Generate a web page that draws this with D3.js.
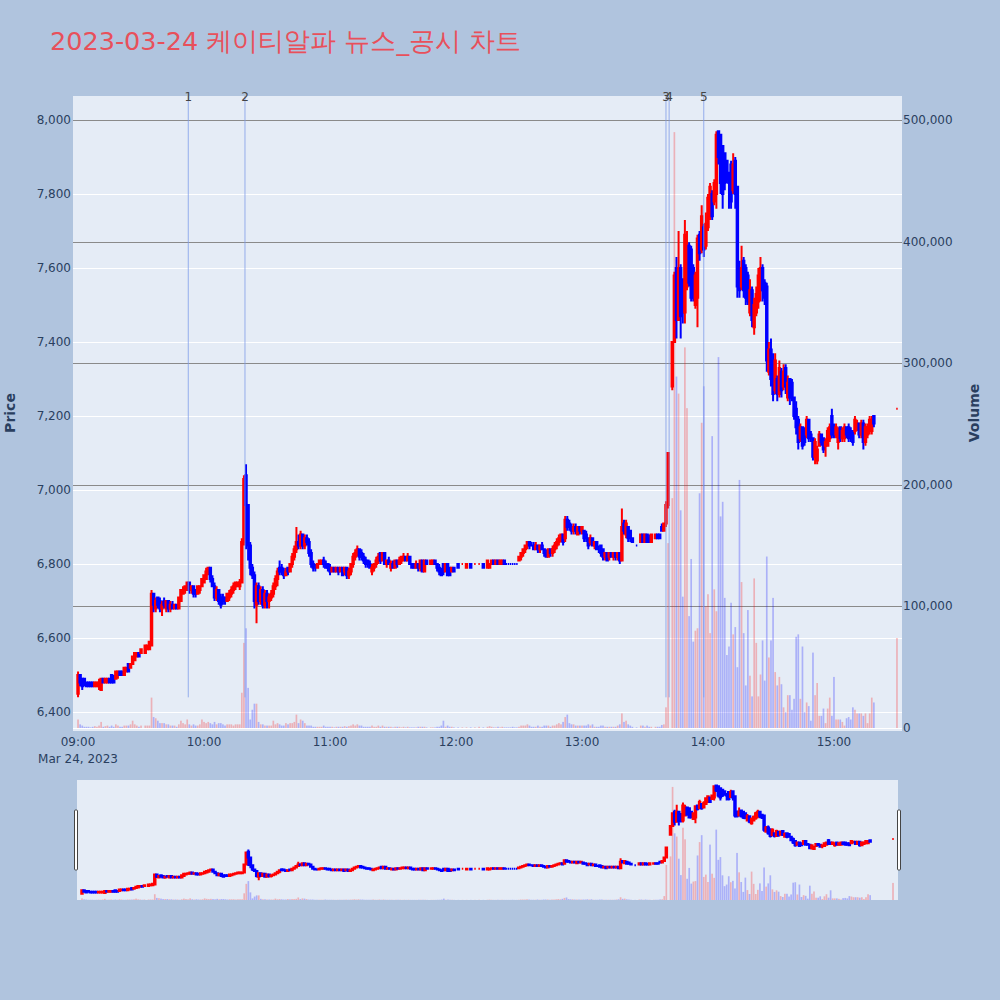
<!DOCTYPE html>
<html><head><meta charset="utf-8">
<script src="https://cdn.jsdelivr.net/npm/d3@7"></script>
<style>body{margin:0;background:#b0c4de;} svg{display:block}</style>
</head><body>
<svg id="chart" width="1000" height="1000"></svg>
<script>
// ---- data: one entry per minute from 09:00 (index = minutes after 09:00), null = no trade ----
const openPrice = [
6450,6500,6490,6490,6480,6480,6480,6480,6470,6470, //09:00
6470,6460,6490,6480,6480,6490,6500,6490,6490,6500, //09:10
6510,6510,6500,6510,6530,6520,6530,6540,6550,6560, //09:20
6560,null,6560,6570,6570,6580,6720,6680,6710,6700, //09:30
6680,6700,6680,6700,6680,6690,6680,6690,6680,6700, //09:40
6720,6730,6730,6750,6730,6740,6730,6720,6730,6740, //09:50
6750,6760,6780,6790,6760,6740,6710,6730,6710,6710, //10:00
6710,6700,6710,6720,6730,6740,6740,6740,6750,6860, //10:10
7040,6960,6850,6790,6770,6690,6740,6700,6730,6690, //10:20
6720,6700,6710,6720,6740,6760,6790,6790,6780,6770, //10:30
6790,6780,6800,6820,6840,6860,6850,6880,6850,6870, //10:40
6860,6830,6800,6790,6790,6800,6800,6810,6800,6800, //10:50
6790,6780,6790,6780,6790,6780,6790,6780,6790,6770, //11:00
6780,6800,6820,6830,6840,6830,6820,6810,6810,6800, //11:10
6780,6790,6800,6810,6830,6810,6830,6800,6810,6790, //11:20
6800,6790,6810,6800,6810,6810,6820,6810,6820,6800, //11:30
6800,6790,6800,6790,6810,6780,6810,null,6800,6800, //11:40
6810,6800,6790,6780,6800,6780,6800,6790,6780,6790, //11:50
null,6800,null,6800,null,6790,null,6800,null,6800, //12:00
null,6800,null,6800,null,6790,6790,6800,6810,6800, //12:10
6810,6800,6800,6810,6800,6800,6800,6800,6800,6800, //12:20
6810,6820,6830,6840,6850,6860,6850,6850,6840,6850, //12:30
6840,6850,6840,6830,6820,6840,6830,6840,6850,6860, //12:40
6870,6880,6870,6920,6910,6900,6890,6900,6880,6900, //12:50
6890,6890,6880,6870,6860,6870,6850,6860,6840,6850, //13:00
6840,6820,6830,6820,6830,6820,6830,6820,6830,6810, //13:10
6910,6880,6900,6890,6870,null,6850,null,6860,6880, //13:20
6860,6880,6870,6860,null,6870,6880,6880,6900,6890, //13:30
6910,6960,null,7280,7400,7600,7460,7600,7570,7480, //13:40
7550,7660,7650,7600,7500,7520,7690,7650,7710,7660, //13:50
7710,7740,7800,7780,7800,7970,7960,7930,7910,7890, //14:00
7850,7880,7810,7890,7820,7600,7550,7620,7600,7580, //14:10
7480,7540,7440,7480,7510,7540,7600,7560,7550,7320, //14:20
7380,7350,7270,7300,7260,7320,7280,7330,7250,7300, //14:30
7290,7250,7220,7190,7140,7170,7160,7150,7190,7150, //14:40
7140,7090,7080,7120,7150,7140,7120,7120,7140,7200, //14:50
7170,7150,7130,7170,7140,7140,7170,7170,7160,7160, //15:00
7160,7170,7180,7150,7180,7130,7150,7160,7160,7200, //15:10
null,null,null,null,null,null,null,null,null,null, //15:20
7220];                                              //15:30
const highPrice = [
6510,6500,6490,6490,6480,6480,6480,6480,6480,6480,
6490,6490,6490,6490,6490,6490,6500,6500,6510,6510,
6510,6510,6520,6520,6530,6530,6550,6560,6560,6560,
6570,null,6580,6580,6590,6730,6720,6710,6710,6710,
6700,6710,6700,6700,6700,6700,6690,6690,6710,6730,
6740,6740,6750,6750,6740,6740,6730,6740,6740,6760,
6770,6790,6790,6790,6770,6750,6740,6730,6720,6720,
6710,6720,6730,6740,6750,6750,6750,6760,6870,7040,
7070,6960,6860,6800,6780,6750,6750,6740,6740,6730,
6730,6720,6730,6750,6770,6790,6810,6800,6790,6790,
6790,6800,6830,6850,6900,6880,6890,6880,6880,6880,
6870,6840,6810,6800,6800,6810,6810,6820,6810,6800,
6800,6790,6790,6790,6790,6790,6790,6790,6790,6790,
6800,6830,6840,6850,6840,6840,6830,6820,6810,6810,
6800,6800,6820,6830,6830,6830,6830,6810,6820,6810,
6810,6810,6810,6820,6820,6830,6820,6830,6820,6800,
6800,6810,6800,6810,6810,6810,6810,null,6810,6810,
6810,6800,6800,6790,6800,6800,6800,6790,6790,6790,
null,6800,null,6800,null,6800,null,6800,null,6800,
null,6800,null,6800,null,6810,6800,6810,6810,6810,
6810,6810,6810,6810,6800,6800,6800,6800,6800,6800,
6820,6830,6840,6850,6860,6860,6860,6860,6860,6850,
6850,6860,6840,6840,6840,6840,6850,6860,6870,6880,
6880,6880,6930,6930,6920,6910,6910,6910,6900,6900,
6900,6890,6890,6870,6880,6870,6860,6860,6850,6850,
6840,6830,6830,6830,6830,6830,6830,6830,6830,6950,
6920,6920,6900,6890,6870,null,6850,null,6880,6880,
6880,6880,6880,6880,null,6880,6880,6880,6910,6910,
6970,7100,null,7400,7590,7630,7700,7610,7570,7730,
7700,7670,7660,7610,7590,7690,7700,7770,7720,7750,
7800,7830,7810,7840,7970,7970,7960,7930,7910,7890,
7860,7890,7910,7900,7820,7620,7660,7630,7610,7590,
7570,7550,7520,7550,7600,7630,7610,7570,7560,7400,
7410,7370,7370,7310,7350,7330,7340,7340,7310,7300,
7300,7250,7240,7200,7180,7170,7170,7200,7190,7160,
7140,7140,7120,7160,7150,7140,7140,7170,7180,7220,
7180,7180,7170,7170,7170,7180,7170,7180,7170,7160,
7200,7190,7180,7190,7190,7180,7180,7200,7200,7200,
null,null,null,null,null,null,null,null,null,null,
7220];
const lowPrice = [
6440,6470,6460,6470,6470,6470,6470,6470,6470,6470,
6460,6460,6480,6480,6480,6480,6480,6480,6490,6490,
6500,6500,6500,6510,6510,6520,6530,6540,6550,6550,
6560,null,6560,6570,6570,6580,6670,6670,6680,6670,
6660,6680,6670,6670,6670,6680,6680,6680,6680,6700,
6720,6720,6730,6720,6720,6710,6710,6720,6720,6740,
6750,6760,6770,6750,6740,6700,6700,6690,6680,6690,
6690,6700,6700,6710,6720,6730,6740,6730,6750,6850,
6840,6810,6770,6760,6680,6640,6690,6690,6680,6680,
6680,6680,6700,6710,6730,6740,6770,6770,6760,6770,
6770,6780,6790,6810,6830,6840,6840,6840,6840,6850,
6820,6790,6780,6780,6790,6800,6800,6790,6790,6780,
6770,6780,6780,6780,6770,6780,6770,6770,6760,6760,
6770,6790,6810,6820,6810,6810,6800,6790,6790,6790,
6770,6780,6790,6800,6800,6810,6800,6790,6800,6780,
6790,6790,6790,6800,6800,6810,6810,6810,6800,6790,
6790,6790,6780,6780,6780,6780,6800,null,6800,6800,
6800,6780,6770,6770,6770,6780,6770,6770,6780,6780,
null,6790,null,6800,null,6790,null,6790,null,6800,
null,6800,null,6790,null,6790,6790,6800,6800,6800,
6800,6800,6800,6800,6800,6800,6800,6800,6800,6800,
6810,6810,6820,6830,6840,6840,6850,6840,6840,6830,
6830,6840,6820,6820,6820,6820,6820,6830,6840,6850,
6860,6850,6860,6890,6890,6880,6880,6880,6880,6880,
6880,6860,6860,6840,6850,6850,6840,6840,6830,6820,
6810,6810,6810,6810,6820,6810,6810,6810,6800,6810,
6880,6870,6860,6860,6860,null,6850,null,6860,6860,
6860,6860,6860,6860,null,6870,6870,6870,6890,6890,
6900,6950,null,7270,7400,7410,7460,7410,7450,7450,
7540,7550,7510,7510,7490,7440,7620,7640,7630,7650,
7700,7730,7730,7770,7760,7880,7800,7760,7810,7830,
7760,7760,7800,7760,7520,7520,7540,7520,7500,7500,
7470,7440,7420,7470,7490,7510,7510,7500,7320,7310,
7280,7240,7260,7240,7250,7250,7270,7260,7240,7230,
7240,7190,7150,7110,7130,7110,7120,7140,7130,7130,
7080,7070,7070,7120,7120,7100,7090,7120,7130,7140,
7140,7140,7110,7130,7130,7130,7140,7130,7130,7120,
7150,7160,7140,7140,7110,7120,7140,7150,7150,7170,
null,null,null,null,null,null,null,null,null,null,
7220];
const closePrice = [
6500,6480,6470,6480,6470,6470,6470,6470,6480,6480,
6480,6490,6480,6490,6490,6480,6480,6480,6510,6510,
6500,6500,6520,6520,6510,6530,6550,6560,6560,6550,
6570,null,6580,6580,6590,6720,6690,6700,6690,6680,
6690,6690,6700,6680,6690,6680,6690,6680,6710,6730,
6730,6740,6750,6730,6740,6720,6720,6740,6740,6760,
6770,6780,6790,6760,6740,6710,6730,6700,6690,6700,
6700,6720,6720,6730,6740,6750,6750,6750,6860,7030,
6960,6850,6790,6770,6700,6740,6700,6730,6690,6720,
6700,6710,6720,6740,6760,6780,6780,6780,6770,6780,
6780,6800,6820,6840,6860,6850,6880,6850,6870,6860,
6830,6800,6790,6790,6800,6810,6810,6800,6790,6790,
6780,6790,6780,6790,6780,6790,6770,6790,6770,6780,
6800,6820,6830,6840,6820,6820,6810,6800,6800,6790,
6790,6800,6810,6820,6810,6830,6800,6810,6800,6800,
6790,6810,6800,6810,6820,6820,6810,6820,6800,6790,
6790,6800,6790,6810,6780,6810,6800,null,6810,6810,
6800,6790,6780,6770,6780,6800,6770,6770,6790,6780,
null,6790,null,6800,null,6800,null,6790,null,6800,
null,6800,null,6790,null,6810,6800,6810,6800,6810,
6800,6810,6810,6800,6800,6800,6800,6800,6800,6800,
6820,6830,6840,6850,6860,6850,6850,6840,6850,6840,
6850,6840,6830,6820,6840,6830,6840,6850,6860,6870,
6880,6860,6920,6900,6900,6890,6900,6890,6900,6890,
6900,6870,6870,6850,6870,6850,6860,6840,6840,6830,
6820,6830,6810,6830,6820,6830,6820,6830,6810,6900,
6890,6910,6870,6870,6860,null,6850,null,6880,6860,
6880,6860,6860,6880,null,6880,6870,6870,6890,6910,
6960,7100,null,7400,7580,7460,7600,7470,7480,7690,
7660,7560,7520,7520,7580,7680,7640,7740,7650,7720,
7790,7820,7740,7830,7960,7900,7830,7800,7830,7840,
7830,7780,7880,7800,7550,7540,7600,7540,7520,7510,
7540,7460,7500,7530,7580,7600,7540,7520,7350,7380,
7300,7260,7350,7260,7330,7270,7320,7280,7290,7250,
7250,7200,7170,7130,7170,7120,7130,7190,7140,7140,
7090,7130,7110,7150,7130,7110,7130,7160,7170,7150,
7150,7170,7160,7140,7160,7170,7150,7140,7140,7130,
7190,7180,7150,7180,7130,7170,7170,7190,7190,7180,
null,null,null,null,null,null,null,null,null,null,
7220];
const volume = [
7000,3000,2000,1000,1000,1000,500,1000,1500,1000,
2000,5000,1000,1500,2000,1000,2000,1000,3000,2000,
1000,1000,2000,2000,2000,3000,6000,3000,2000,1000,
2000,null,2000,2000,2000,25000,9000,8000,6000,4000,
4000,4000,3000,3000,2000,2000,2000,1000,3000,6000,
4000,3000,7000,3000,2000,3000,2000,2000,3000,7000,
5000,4000,5000,4000,3000,5000,3000,4000,4000,3000,
2000,3000,3000,3000,2000,3000,3000,3000,29000,70000,
82000,33000,7000,15000,20000,20000,5000,3000,3000,2000,
2000,2000,2000,6000,3000,4000,3000,2000,2000,4000,
3000,4000,4000,5000,11000,4000,7000,6000,4000,2000,
2000,2000,1000,1000,1000,1000,1000,2000,1000,1000,
1000,1000,500,1000,1000,1000,1000,1500,1000,1500,
2000,3000,2000,3000,2000,2000,1000,1000,1000,1000,
2000,1000,1000,2000,1000,2000,1000,1000,1000,1000,
500,1000,1000,1000,500,1000,500,1000,500,500,
500,500,1000,1000,1000,1000,500,null,500,500,
500,1000,1000,2000,6000,1000,2000,1000,1000,500,
null,500,null,500,null,500,null,500,null,500,
null,1000,null,500,null,1000,1500,1000,500,500,
1000,500,1000,500,500,500,500,1000,500,500,
1000,2000,2000,2000,3000,2000,1000,1000,1000,2000,
1000,1000,2000,2000,2000,1000,2000,2000,3000,4000,
3000,5000,9000,11000,4000,3000,3000,2000,2000,2000,
2000,2000,2000,3000,2000,3000,1000,1000,1000,2000,
2000,1000,1000,1000,1000,1000,1000,2000,3000,12000,
5000,6000,3000,2000,1000,null,500,null,2000,2000,
1000,2000,1000,1000,null,1000,1000,1000,2500,3000,
17000,152000,null,189000,490000,289000,275000,179000,108000,313000,
263000,92000,139000,71000,80000,82000,193000,251000,281000,100000,
110000,78000,240000,114000,96000,305000,174000,186000,107000,60000,
67000,103000,77000,83000,50000,204000,120000,78000,35000,97000,
43000,26000,123000,70000,26000,44000,72000,39000,141000,58000,
72000,107000,46000,35000,42000,36000,17000,13000,27000,27000,
15000,24000,75000,77000,24000,67000,13000,21000,18000,6000,
62000,27000,37000,10000,10000,16000,4000,16000,25000,10000,
42000,7000,7000,7000,5000,2000,8000,9000,7000,17000,
15000,12000,12000,12000,10000,12000,4000,12000,25000,21000,
null,null,null,null,null,null,null,null,null,null,
74000];

const newsLabels = ["1", "2", "3", "4", "5"];
const newsTimes = ["09:52:30", "10:19:30", "13:40:00", "13:41:30", "13:58:00"];
const priceTicks = [6400, 6600, 6800, 7000, 7200, 7400, 7600, 7800, 8000];
const volumeTicks = [0, 100000, 200000, 300000, 400000, 500000];
const timeTicks = ["09:00", "10:00", "11:00", "12:00", "13:00", "14:00", "15:00"];
const titleText = "2023-03-24 케이티알파 뉴스_공시 차트";

// ---- helpers ----
const day = (hms) => { const p = hms.split(":").map(Number); return new Date(2023, 2, 24, p[0], p[1], p[2] || 0); };
const session0 = day("09:00");
const FONT = "'DejaVu Sans', Verdana, sans-serif";
const INC = "#ff0000", DEC = "#0000ff", TXT = "#2a3f5f";

const bars = [];
let prevC = null, prevDir = 1;
openPrice.forEach((o, i) => {
  if (o == null) return;
  const c = closePrice[i];
  let dir;
  if (c > o) dir = 1; else if (c < o) dir = -1;
  else if (prevC != null && c > prevC) dir = 1; else if (prevC != null && c < prevC) dir = -1; else dir = prevDir;
  bars.push({t: new Date(+session0 + i * 60000), o, h: highPrice[i], l: lowPrice[i], c, v: volume[i], dir});
  prevC = c; prevDir = dir;
});

const svg = d3.select("#chart");
const P = {l: 73, r: 902, t: 96, b: 731};
const x = d3.scaleTime().domain([day("08:57:36"), day("15:32:24")]).range([P.l, P.r]);
const yP = d3.scaleLinear().domain([6349, 8065]).range([P.b, P.t]);
const yV = d3.scaleLinear().domain([-2470, 519700]).range([P.b, P.t]);

// title
svg.append("text").attr("x", 50).attr("y", 50).attr("font-family", FONT).attr("font-size", 25.5)
  .attr("fill", "#e8505b").text(titleText);

// plot background
svg.append("rect").attr("x", P.l).attr("y", P.t).attr("width", P.r - P.l).attr("height", P.b - P.t).attr("fill", "#e5ecf6");

// grids
const grid = svg.append("g");
grid.selectAll(".pg").data(priceTicks).join("line")
  .attr("x1", P.l).attr("x2", P.r).attr("y1", d => Math.round(yP(d)) + 0.5).attr("y2", d => Math.round(yP(d)) + 0.5)
  .attr("stroke", "#ffffff").attr("stroke-width", 1);
grid.selectAll(".vg").data(volumeTicks.filter(d => d > 0)).join("line")
  .attr("x1", P.l).attr("x2", P.r).attr("y1", d => Math.round(yV(d)) + 0.5).attr("y2", d => Math.round(yV(d)) + 0.5)
  .attr("stroke", "#8a8a8a").attr("stroke-width", 1);
grid.append("line").attr("x1", P.l).attr("x2", P.r).attr("y1", Math.round(yV(0)) + 0.5).attr("y2", Math.round(yV(0)) + 0.5)
  .attr("stroke", "#ffffff").attr("stroke-width", 1);

svg.append("defs").append("clipPath").attr("id", "clipMain").append("rect")
  .attr("x", P.l).attr("y", P.t).attr("width", P.r - P.l).attr("height", P.b - P.t);

const stepPx = x(new Date(+session0 + 60000)) - x(session0);

function drawSeries(g, xs, yp, yv) {
  const bw = stepPx * 0.8;
  g.append("g").selectAll("rect").data(bars).join("rect")
    .attr("x", d => xs(d.t) - bw / 2).attr("width", bw)
    .attr("y", d => Math.min(yv(d.v), yv(0))).attr("height", d => Math.abs(yv(0) - yv(d.v)))
    .attr("fill", d => d.dir > 0 ? INC : DEC).attr("fill-opacity", 0.25);
  const hw = stepPx * 0.35;
  g.append("g").selectAll("path").data(bars).join("path")
    .attr("d", d => {
      const xc = xs(d.t), yo = yp(d.o), yc = yp(d.c);
      const top = Math.min(yo, yc), bot = Math.max(yo, yc);
      return `M${xc - hw},${bot}V${top}H${xc + hw}V${bot}Z M${xc},${top}V${yp(d.h)} M${xc},${bot}V${yp(d.l)}`;
    })
    .attr("fill", d => d.dir > 0 ? INC : DEC).attr("stroke", d => d.dir > 0 ? INC : DEC).attr("stroke-width", 2);
}

const main = svg.append("g").attr("clip-path", "url(#clipMain)");
drawSeries(main, x, yP, yV);

// news markers
const lowAll = d3.min(bars, d => d.l);
const news = svg.append("g");
newsTimes.forEach((t, i) => {
  const xx = x(day(t));
  news.append("line").attr("x1", xx).attr("x2", xx).attr("y1", yP(lowAll)).attr("y2", P.t)
    .attr("stroke", "#7f9ce8").attr("stroke-opacity", 0.8).attr("stroke-width", 1);
  news.append("text").attr("x", xx).attr("y", P.t + 5).attr("text-anchor", "middle")
    .attr("font-family", FONT).attr("font-size", 12).attr("fill", "#444").text(newsLabels[i]);
});

// axes labels
const fmt = d3.format(",");
svg.append("g").selectAll("text").data(priceTicks).join("text")
  .attr("x", 71).attr("y", d => yP(d) + 4).attr("text-anchor", "end")
  .attr("font-family", FONT).attr("font-size", 12).attr("fill", TXT).text(d => fmt(d));
svg.append("g").selectAll("text").data(volumeTicks).join("text")
  .attr("x", 903).attr("y", d => yV(d) + 4).attr("text-anchor", "start")
  .attr("font-family", FONT).attr("font-size", 12).attr("fill", TXT).text(d => fmt(d));
svg.append("g").selectAll("text").data(timeTicks).join("text")
  .attr("x", d => x(day(d))).attr("y", 746).attr("text-anchor", "middle")
  .attr("font-family", FONT).attr("font-size", 12).attr("fill", TXT).text(d => d);
svg.append("text").attr("x", x(day(timeTicks[0]))).attr("y", 763).attr("text-anchor", "middle")
  .attr("font-family", FONT).attr("font-size", 12).attr("fill", TXT).text("Mar 24, 2023");

svg.append("text").attr("transform", "translate(15,413) rotate(-90)").attr("text-anchor", "middle")
  .attr("font-family", FONT).attr("font-size", 14).attr("font-weight", "bold").attr("fill", TXT).text("Price");
svg.append("text").attr("transform", "translate(979,413) rotate(-90)").attr("text-anchor", "middle")
  .attr("font-family", FONT).attr("font-size", 14).attr("font-weight", "bold").attr("fill", TXT).text("Volume");

// range slider
const S = {l: 77, r: 898, t: 780, b: 900};
svg.append("rect").attr("x", S.l).attr("y", S.t).attr("width", S.r - S.l).attr("height", S.b - S.t).attr("fill", "#e5ecf6");
svg.select("defs").append("clipPath").attr("id", "clipSlider").append("rect")
  .attr("x", S.l).attr("y", S.t).attr("width", S.r - S.l).attr("height", S.b - S.t);
const xs = d3.scaleTime().domain(x.domain()).range([S.l, S.r]);
const ysP = d3.scaleLinear().domain([6363, 8047]).range([S.b, S.t]);
const ysV = d3.scaleLinear().domain([0, 520000]).range([S.b, S.t]);
const slider = svg.append("g").attr("clip-path", "url(#clipSlider)");
drawSeries(slider, xs, ysP, ysV);
[S.l - 1.5, S.r + 0.5].forEach(hx => {
  svg.append("rect").attr("x", hx - 1).attr("y", 810).attr("width", 3).attr("height", 60)
    .attr("rx", 1).attr("fill", "#ffffff").attr("stroke", "#444").attr("stroke-width", 1);
});
</script>
</body></html>
